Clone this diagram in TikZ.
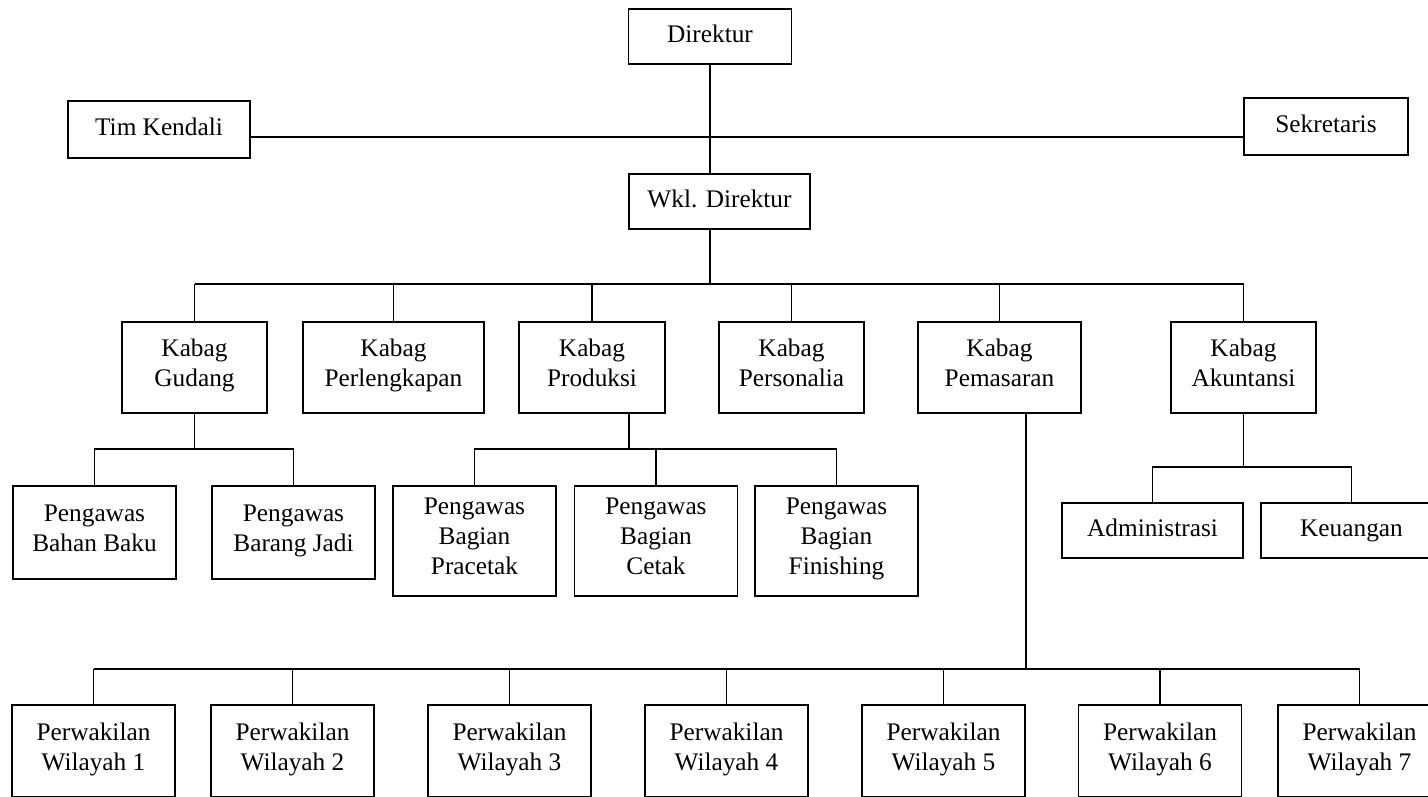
\documentclass[tikz,border=0pt]{standalone}
\usepackage{fontspec}
\setmainfont{Liberation Serif}
\begin{document}
\begin{tikzpicture}[x=0.02cm,y=-0.02cm,line width=1.1pt,
  unit/.style={draw,align=center,inner sep=1pt,font=\fontsize{14.4}{17}\selectfont,
    execute at begin node=\strut,execute at end node=\strut},
  kabag/.style={unit,minimum height=1.82cm},
  pengawas/.style={unit,minimum width=3.26cm},
  wilayah/.style={unit,minimum width=3.26cm,minimum height=1.84cm}]
\useasboundingbox (0,0) rectangle (1428,796);

% Pimpinan
\node[unit,minimum width=3.26cm,minimum height=1.1cm] (dir) at (710,36.5) {Direktur};
\node[unit,minimum width=3.64cm,minimum height=1.14cm] (tim) at (159,129.5) {Tim Kendali};
\node[unit,minimum width=3.28cm,minimum height=1.14cm] (sek) at (1326,126.5) {Sekretaris};
\node[unit,minimum width=3.62cm,minimum height=1.1cm] (wkl) at (719.5,201.5) {Wkl. Direktur};

\coordinate (staf) at (710,137);
\coordinate (bus) at (710,284);
\draw (dir.south) -- (dir.south |- wkl.north);
\draw (tim.east |- staf) -- (sek.west |- staf);
\draw (dir |- wkl.south) -- (bus);

% Kepala bagian
\node[kabag,minimum width=2.9cm] (gud) at (194.5,367.5) {Kabag\\Gudang};
\node[kabag,minimum width=3.62cm] (lkp) at (393.5,367.5) {Kabag\\Perlengkapan};
\node[kabag,minimum width=2.92cm] (prd) at (592,367.5) {Kabag\\Produksi};
\node[kabag,minimum width=2.9cm] (prs) at (791.5,367.5) {Kabag\\Personalia};
\node[kabag,minimum width=3.26cm] (pms) at (999.5,367.5) {Kabag\\Pemasaran};
\node[kabag,minimum width=2.9cm] (akt) at (1243.5,367.5) {Kabag\\Akuntansi};

\draw (gud.north |- bus) -- (akt.north |- bus);
\foreach \k in {gud,lkp,prd,prs,pms,akt} {
  \draw (\k.north) -- (\k.north |- bus);
}

% Gudang
\node[pengawas,minimum height=1.86cm] (bhn) at (94.5,532.5) {Pengawas\\Bahan Baku};
\node[pengawas,minimum height=1.86cm] (brg) at (293.5,532.5) {Pengawas\\Barang Jadi};
\coordinate (gbus) at (194.5,449);
\draw (gud.south) -- (gbus);
\draw (bhn.north) |- (gbus) -| (brg.north);

% Produksi
\node[pengawas,minimum height=2.2cm] (prc) at (474.5,541) {Pengawas\\Bagian\\Pracetak};
\node[pengawas,minimum height=2.2cm] (ctk) at (656,541) {Pengawas\\Bagian\\Cetak};
\node[pengawas,minimum height=2.2cm] (fin) at (836.5,541) {Pengawas\\Bagian\\Finishing};
\coordinate (pbus) at (629,449);
\draw (pbus |- prd.south) -- (pbus);
\draw (prc.north) |- (pbus) -| (fin.north);
\draw (ctk.north) -- (ctk.north |- pbus);

% Akuntansi
\node[unit,minimum width=3.62cm,minimum height=1.1cm] (adm) at (1152.5,530.5) {Administrasi};
\node[unit,minimum width=3.62cm,minimum height=1.1cm] (keu) at (1351.5,530.5) {Keuangan};
\coordinate (abus) at (1243.5,467);
\draw (akt.south) -- (abus);
\draw (adm.north) |- (abus) -| (keu.north);

% Pemasaran
\coordinate (wbus) at (1026,669);
\draw (wbus |- pms.south) -- (wbus);
\foreach \i/\x in {1/93.5,2/292.5,3/509.5,4/726.5,5/943.5,6/1160,7/1359.5} {
  \node[wilayah] (w\i) at (\x,751) {Perwakilan\\Wilayah \i};
}
\draw (w1.north |- wbus) -- (w7.north |- wbus);
\foreach \i in {1,...,7} {
  \draw (w\i.north) -- (w\i.north |- wbus);
}
\end{tikzpicture}
\end{document}
